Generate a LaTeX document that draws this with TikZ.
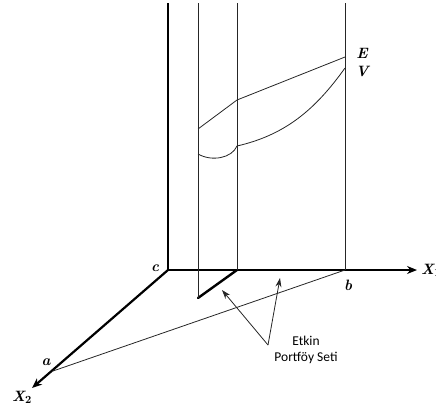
\documentclass[tikz,border=0pt]{standalone}
\usepackage{fontspec}
\newfontfamily\labelfont{Carlito}
\usetikzlibrary{arrows.meta, positioning, calc}
\tikzset{
    thinline/.style={draw=black!85, line width=0.8pt},
    boldline/.style={draw=black, line width=2.4pt},
    axisarrow/.style={-{Stealth[length=10pt, width=8pt]}, draw=black, line width=1.3pt},
    pointer/.style={-{Stealth[length=9pt, width=6pt]}, draw=black!85, line width=0.8pt},
    axislabel/.style={font=\fontsize{15}{18}\selectfont\bfseries\itshape\boldmath, inner sep=0pt},
    note/.style={font=\labelfont\fontsize{13.5}{15}\selectfont, align=center, inner sep=0pt}
}
\begin{document}
\begin{tikzpicture}[x=1pt, y=-1pt]
        \useasboundingbox (0,0) rectangle (436,410);
        % base points
        \coordinate (c) at (168,270);
        \coordinate (x1end) at (417,270);
        \coordinate (x2end) at (32,388);
        \coordinate (a) at (53,371);
        \coordinate (b) at (345,270);
        \coordinate (m) at (237,270);
        \coordinate (f) at (198,298);
        \coordinate (ctop) at (168,3);
        \coordinate (ftop) at (198,3);
        \coordinate (mtop) at (237,3);
        \coordinate (btop) at (345,3);

        % axes
        \draw[boldline] (ctop) -- (c);
        \draw[axisarrow] (c) -- (x1end);
        \draw[axisarrow, line width=2.2pt] (c) -- (x2end);
        \draw[boldline] (m) -- (b);
        \draw[boldline, line cap=round] (m) -- (f);

        % verticals and base line
        \draw[thinline] (ftop) -- (f);
        \draw[thinline] (mtop) -- (m);
        \draw[thinline] (btop) -- (b);
        \draw[thinline] (a) -- (b);

        % E and V curves
        \coordinate (e1) at (198,129);
        \coordinate (e2) at (237,100);
        \coordinate (e3) at (345,57);
        \coordinate (v1) at (198,154);
        \coordinate (v2) at (237,146);
        \coordinate (v3) at (345,68);
        \draw[thinline] (e1) -- (e2) -- (e3);
        \draw[thinline] (v1) .. controls (212,162) and (232,158) .. (v2)
            .. controls (285,135) and (315,110) .. (v3);

        % labels
        \node[axislabel] (lblE) at (362,53) {E};
        \node[axislabel] (lblV) at (362,71) {V};
        \node[axislabel] (lblc) at (155,268) {c};
        \node[axislabel] (lblb) at (348,285) {b};
        \node[axislabel] (lbla) at (46,362) {a};
        \node[axislabel] (lblx2) at (22,397) {X$_2$};
        \node[axislabel, anchor=west] (lblx1) at (421,270) {X$_1$};

        % Etkin Portfoy Seti
        \node[note] (set) at (306,350) {Etkin\\[1pt]Portföy Seti};
        \coordinate (base) at (268,345);
        \draw[pointer] (base) -- (222,290);
        \draw[pointer] (base) -- (280,278);
    \end{tikzpicture}
\end{document}
